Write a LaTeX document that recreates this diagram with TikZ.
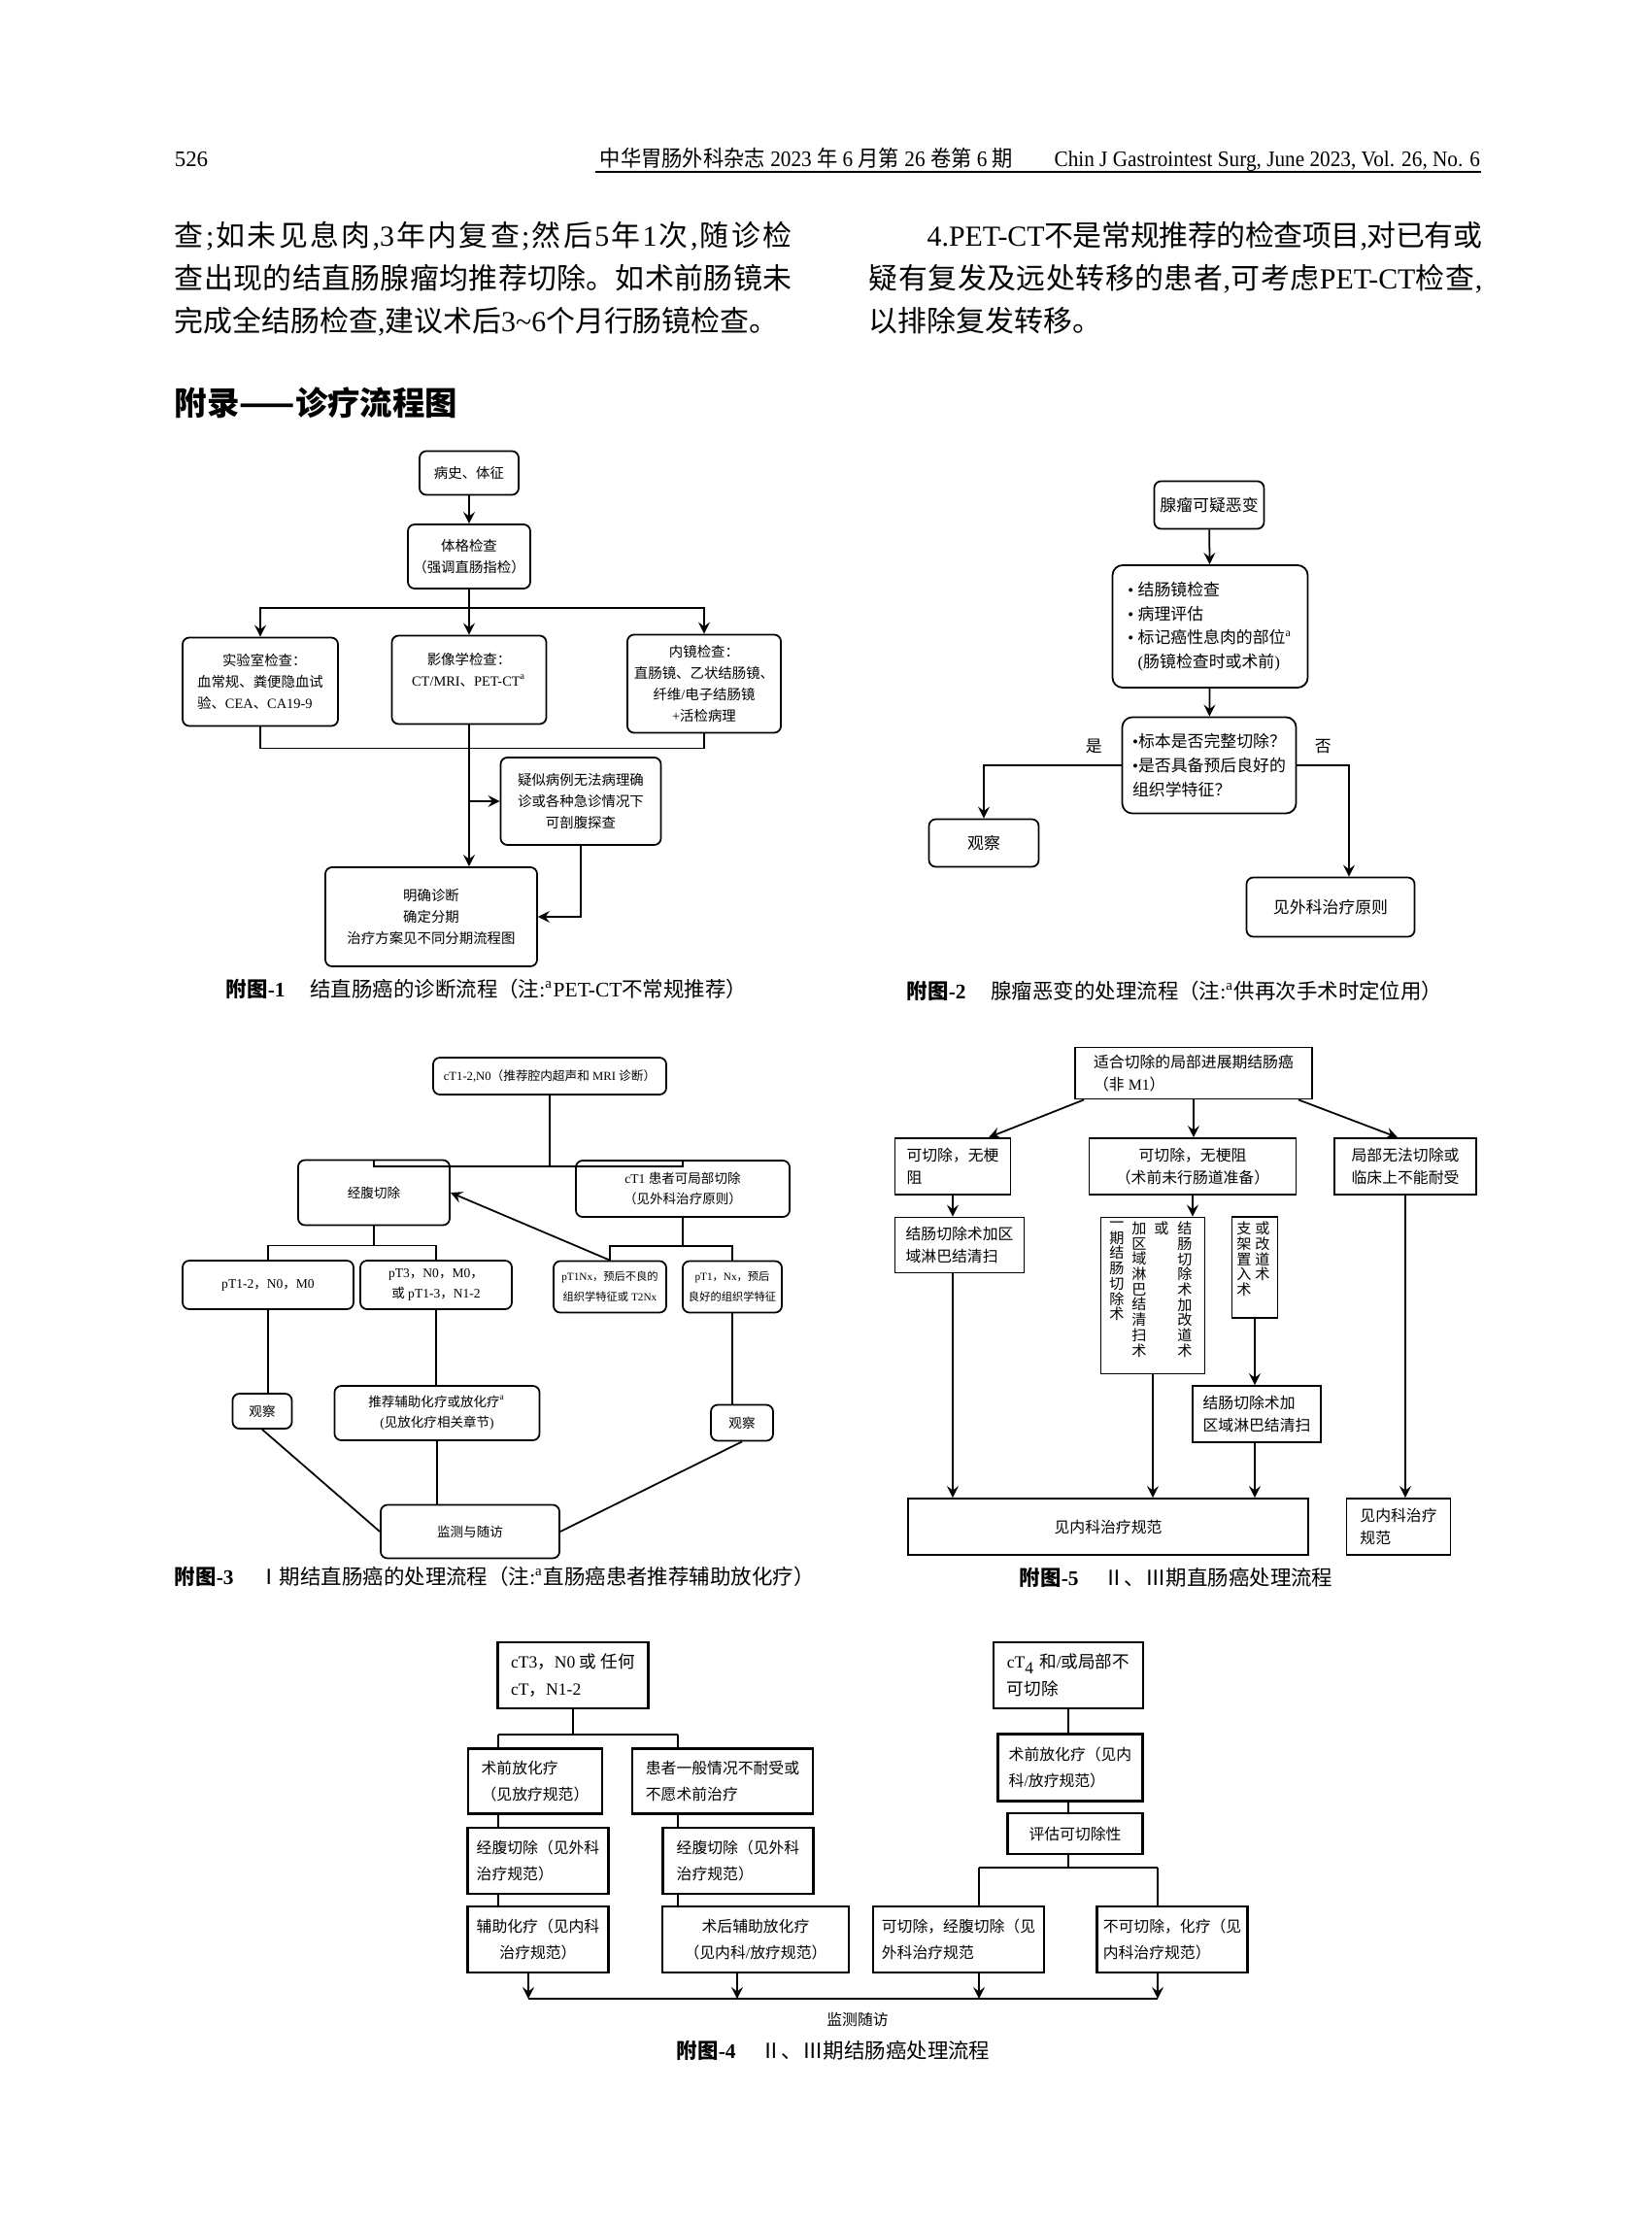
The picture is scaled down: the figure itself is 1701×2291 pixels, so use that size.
\documentclass[tikz,border=0pt]{standalone}
\usepackage{fontspec}
\usepackage{graphicx}
\setmainfont{Liberation Serif}
\newfontfamily\cjkfont{Noto Sans CJK SC}
\XeTeXlinebreaklocale "zh"
\XeTeXlinebreakskip=0pt plus 1.5pt minus 0.6pt
\XeTeXinterchartokenstate=1
\newXeTeXintercharclass\cjkclass
\newcount\cjkchar
\def\setcjkrange#1#2{\cjkchar=#1\relax
  \loop\XeTeXcharclass\cjkchar=\cjkclass
  \ifnum\cjkchar<#2\relax\advance\cjkchar by 1\repeat}
\setcjkrange{"2014}{"2014}
\setcjkrange{"2160}{"217F}
\setcjkrange{"3000}{"303F}
\setcjkrange{"4E00}{"9FFF}
\setcjkrange{"FF00}{"FFEF}
\XeTeXinterchartoks 0 \cjkclass={\hskip0pt plus 1.5pt minus 0.6pt\cjkfont}
\XeTeXinterchartoks 4095 \cjkclass={\cjkfont}
\XeTeXinterchartoks \cjkclass 0={\hskip0pt plus 1.5pt minus 0.6pt\rmfamily}
\XeTeXinterchartoks \cjkclass 4095={\rmfamily}

\begin{document}
\begin{tikzpicture}[x=0.01cm, y=-0.01cm, >=stealth, line width=0.5pt,
  wh/.style 2 args={minimum width=#1, minimum height=#2},
  rbox/.style={draw, rounded corners=2pt, align=center, inner sep=1pt},
  sbox/.style={draw, align=center, inner sep=1pt},
  fa/.style={font=\fontsize{4.1}{6.2}\selectfont},
  fb/.style={font=\fontsize{4.8}{7}\selectfont},
  fc/.style={font=\fontsize{3.85}{5.9}\selectfont},
  fcs/.style={font=\fontsize{3.2}{5.9}\selectfont},
  fd/.style={font=\fontsize{4.5}{6.4}\selectfont},
  fe/.style={font=\fontsize{4.5}{7.7}\selectfont},
  ff/.style={font=\fontsize{5}{8}\selectfont},
  vcol/.style={font=\fontsize{4.3}{4.47}\selectfont, align=center, inner sep=0pt, anchor=north},
  figcap/.style={font=\fontsize{6.1}{7}\selectfont, anchor=west, inner sep=0pt},
  body/.style={font=\fontsize{8.5}{12.5}\selectfont, align=justify, inner sep=0pt, anchor=north west}]
        \fill[white] (0,0) rectangle (1701,2291);
        \useasboundingbox (0,0) rectangle (1701,2291);

        \node[anchor=west, inner sep=0pt, font=\fontsize{6.5}{7}\selectfont] (pageno) at (179,164) {526};
        \node[anchor=east, inner sep=0pt, font=\fontsize{6.5}{7}\selectfont] (journal) at (1525,164) {\scalebox{0.93}[1]{中华胃肠外科杂志 2023 年 6 月第 26 卷第 6 期\qquad Chin J Gastrointest Surg, June 2023, Vol. 26, No. 6}};
        \draw[line width=0.4pt] (613,177) -- (1525,177);

        \node[body, text width=6.35cm] (leftpara) at (179,227) {\noindent 查;如未见息肉,3年内复查;然后5年1次,随诊检\linebreak 查出现的结直肠腺瘤均推荐切除。如术前肠镜未\linebreak 完成全结肠检查,建议术后3\textasciitilde 6个月行肠镜检查。};
        \node[body, text width=6.31cm] (rightpara) at (894,227) {\noindent\hspace*{2em}4.PET-CT不是常规推荐的检查项目,对已有或\linebreak 疑有复发及远处转移的患者,可考虑PET-CT检查,\linebreak 以排除复发转移。};
        \node[anchor=west, inner sep=0pt, font=\fontsize{9.5}{11}\selectfont\bfseries] (appendix) at (179,415) {附录——诊疗流程图};

        \node[rbox, fa, wh={1.02cm}{0.45cm}] (history) at (483,487) {病史、体征};
        \node[rbox, fa, wh={1.26cm}{0.66cm}] (physical) at (483,573) {体格检查\\（强调直肠指检）};
        \node[rbox, fa, wh={1.60cm}{0.91cm}, align=left] (lab) at (268,702) {\hspace*{1.8em}实验室检查：\\血常规、粪便隐血试\\验、CEA、CA19-9};
        \node[rbox, fa, wh={1.59cm}{0.91cm}] (imaging) at (483,700) {影像学检查：\\CT/MRI、PET-CT\textsuperscript{a}\\ \mbox{}};
        \node[rbox, fa, wh={1.58cm}{1.01cm}] (endoscopy) at (725,704) {内镜检查：\\直肠镜、乙状结肠镜、\\纤维/电子结肠镜\\+活检病理};
        \node[rbox, fa, wh={1.65cm}{0.90cm}] (suspect) at (598,825) {疑似病例无法病理确\\诊或各种急诊情况下\\可剖腹探查};
        \node[rbox, fa, wh={2.18cm}{1.02cm}] (diagnosis) at (444,944) {明确诊断\\确定分期\\治疗方案见不同分期流程图};

        \draw[->] (history) -- (physical);
        \draw (physical.south) -- ++(0,19) coordinate (split1);
        \draw[->] (split1) -| (lab.north);
        \draw[->] (split1) -| (endoscopy.north);
        \draw[->] (split1) -- (imaging.north);
        \draw (lab.south) -- ++(0,22) -| (endoscopy.south);
        \draw[->] (imaging.south) -- (imaging.south |- diagnosis.north);
        \draw[->] (imaging.south |- suspect.west) -- (suspect.west);
        \draw[->] (suspect.south) |- (diagnosis.east);
        \node[figcap] (cap1) at (232,1018) {{\bfseries 附图-1}\hspace{1.2em}结直肠癌的诊断流程（注:\textsuperscript{a}PET-CT不常规推荐）};

        \node[rbox, fb, wh={1.13cm}{0.49cm}] (adenoma) at (1245,520) {腺瘤可疑恶变};
        \node[rbox, fb, wh={2.01cm}{1.26cm}, align=left, rounded corners=3pt] (workup) at (1246,645) {• 结肠镜检查\\• 病理评估\\• 标记癌性息肉的部位\textsuperscript{a}\\\phantom{• }(肠镜检查时或术前)};
        \node[rbox, fb, wh={1.79cm}{0.99cm}, align=left, rounded corners=3pt] (check) at (1245,788) {•标本是否完整切除？\\•是否具备预后良好的\\组织学特征？};
        \node[rbox, fb, wh={1.13cm}{0.49cm}] (observe2) at (1013,868) {观察};
        \node[rbox, fb, wh={1.73cm}{0.61cm}] (surgery2) at (1370,934) {见外科治疗原则};

        \draw[->] (adenoma) -- (workup);
        \draw[->] (workup) -- (check);
        \draw[->] (check.west) -| node[pos=0.1, above, fb] (yes2) {是} (observe2.north);
        \draw[->] (check.east) -| node[pos=0.25, above, fb] (no2) {否} ([xshift=0.19cm]surgery2.north);
        \node[figcap] (cap2) at (933,1020) {{\bfseries 附图-2}\hspace{1.2em}腺瘤恶变的处理流程（注:\textsuperscript{a}供再次手术时定位用）};

        \node[rbox, wh={2.40cm}{0.38cm}, font=\fontsize{3.6}{5}\selectfont] (stage1) at (566,1108) {cT1-2,N0（推荐腔内超声和 MRI 诊断）};
        \node[rbox, fc, wh={1.56cm}{0.67cm}] (transabd) at (385,1228) {经腹切除};
        \node[rbox, fc, wh={2.20cm}{0.58cm}] (local) at (703,1224) {cT1 患者可局部切除\\（见外科治疗原则）};
        \node[rbox, fc, wh={1.76cm}{0.50cm}] (ptA) at (276,1323) {pT1-2，N0，M0};
        \node[rbox, fc, wh={1.56cm}{0.50cm}] (ptB) at (449,1323) {pT3，N0，M0，\\或 pT1-3，N1-2};
        \node[rbox, fcs, wh={1.16cm}{0.53cm}] (ptC) at (628,1325) {pT1Nx，预后不良的\\组织学特征或 T2Nx};
        \node[rbox, fcs, wh={1.02cm}{0.53cm}] (ptD) at (754,1325) {pT1，Nx，预后\\良好的组织学特征};
        \node[rbox, fc, wh={0.61cm}{0.36cm}] (observe3a) at (270,1453) {观察};
        \node[rbox, fc, wh={2.11cm}{0.56cm}] (adjuvant) at (450,1455) {推荐辅助化疗或放化疗\textsuperscript{a}\\(见放化疗相关章节)};
        \node[rbox, fc, wh={0.64cm}{0.37cm}] (observe3b) at (764,1465) {观察};
        \node[rbox, fc, wh={1.84cm}{0.55cm}] (follow3) at (484,1577) {监测与随访};

        \draw (stage1.south) -- ++(0,73) coordinate (split3);
        \draw (transabd.north) |- (split3) -| (local.north);
        \draw (transabd.south) -- ++(0,20) coordinate (split3a);
        \draw (ptA.north) |- (split3a) -| (ptB.north);
        \draw (local.south) -- ++(0,29) coordinate (split3b);
        \draw (ptC.north) |- (split3b) -| (ptD.north);
        \draw[->] (ptC.north) -- (transabd.east);
        \draw (ptA.south) -- (ptA.south |- observe3a.north);
        \draw (ptB.south) -- (ptB.south |- adjuvant.north);
        \draw (ptD.south) -- (ptD.south |- observe3b.north);
        \draw (observe3a.south) -- (follow3.west);
        \draw (adjuvant.south) -- (adjuvant.south |- follow3.north);
        \draw (observe3b.south) -- (follow3.east);
        \node[figcap] (cap3) at (179,1623) {{\bfseries 附图-3}\hspace{1.2em}Ⅰ期结直肠癌的处理流程（注:\textsuperscript{a}直肠癌患者推荐辅助放化疗）};

        \node[sbox, fd, wh={2.44cm}{0.53cm}, align=left] (advanced) at (1229,1105) {适合切除的局部进展期结肠癌\\（非 M1）};
        \node[sbox, fd, wh={1.19cm}{0.58cm}, align=left] (resectA) at (981,1201) {可切除，无梗\\阻};
        \node[sbox, fd, wh={2.13cm}{0.58cm}] (resectB) at (1228,1201) {可切除，无梗阻\\（术前未行肠道准备）};
        \node[sbox, fd, wh={1.46cm}{0.58cm}, align=left] (unresect) at (1447,1201) {局部无法切除或\\临床上不能耐受};
        \node[sbox, fd, wh={1.33cm}{0.57cm}, align=left] (colectA) at (988,1282) {结肠切除术加区\\域淋巴结清扫};
        \node[sbox, wh={1.07cm}{1.61cm}] (options) at (1187,1334) {};
        \node[vcol] (optA) at (1150,1257) {一\\期\\结\\肠\\切\\除\\术};
        \node[vcol] (optB) at (1173,1257) {加\\区\\域\\淋\\巴\\结\\清\\扫\\术};
        \node[vcol] (optC) at (1196,1257) {或};
        \node[vcol] (optD) at (1220,1257) {结\\肠\\切\\除\\术\\加\\改\\道\\术};
        \node[sbox, wh={0.47cm}{1.04cm}] (stent) at (1292,1305) {};
        \node[vcol] (stentA) at (1281,1257) {支\\架\\置\\入\\术};
        \node[vcol] (stentB) at (1300,1257) {或\\改\\道\\术};
        \node[sbox, fd, wh={1.32cm}{0.58cm}, align=left] (colectB) at (1294,1456) {结肠切除术加\\区域淋巴结清扫};
        \node[sbox, fd, wh={4.12cm}{0.58cm}] (medical5) at (1141,1572) {见内科治疗规范};
        \node[sbox, fd, wh={1.07cm}{0.58cm}, align=left] (medical5b) at (1440,1572) {见内科治疗\\规范};

        \draw[->] ([xshift=0.1cm]advanced.south west) -- ([xshift=0.37cm]resectA.north);
        \draw[->] (advanced.south) -- (advanced.south |- resectB.north);
        \draw[->] ([xshift=-0.15cm]advanced.south east) -- ([xshift=-0.08cm]unresect.north);
        \draw[->] (resectA.south) -- (resectA.south |- colectA.north);
        \draw[->] (resectA.south |- colectA.south) -- (resectA.south |- medical5.north);
        \draw[->] (resectB.south) -- (resectB.south |- options.north);
        \draw[->] (options.south) -- (options.south |- medical5.north);
        \draw[->] (stent.south) -- (stent.south |- colectB.north);
        \draw[->] (stent.south |- colectB.south) -- (stent.south |- medical5.north);
        \draw[->] (unresect.south) -- (unresect.south |- medical5b.north);
        \node[figcap] (cap5) at (1049,1624) {{\bfseries 附图-5}\hspace{1.2em}Ⅱ、Ⅲ期直肠癌处理流程};

        \node[sbox, ff, wh={1.55cm}{0.68cm}, align=left, line width=0.7pt] (cthree) at (590,1725) {cT3，N0 或 任何\\cT，N1-2};
        \node[sbox, fe, wh={1.38cm}{0.67cm}, align=left, line width=0.7pt] (preop) at (551,1834) {术前放化疗\\（见放疗规范）};
        \node[sbox, fe, wh={1.86cm}{0.67cm}, align=left, line width=0.7pt] (unfit) at (744,1834) {患者一般情况不耐受或\\不愿术前治疗};
        \node[sbox, fe, wh={1.45cm}{0.68cm}, align=left, line width=0.7pt] (surgA) at (554,1916) {经腹切除（见外科\\治疗规范）};
        \node[sbox, fe, wh={1.55cm}{0.68cm}, align=left, line width=0.7pt] (surgB) at (760,1916) {经腹切除（见外科\\治疗规范）};
        \node[sbox, fe, wh={1.45cm}{0.68cm}, line width=0.7pt] (chemoA) at (554,1997) {辅助化疗（见内科\\治疗规范）};
        \node[sbox, fe, wh={1.92cm}{0.68cm}, line width=0.7pt] (chemoB) at (778,1997) {术后辅助放化疗\\（见内科/放疗规范）};
        \node[sbox, ff, wh={1.54cm}{0.68cm}, align=left, line width=0.7pt] (cfour) at (1100,1725) {cT\textsubscript{4} 和/或局部不\\可切除};
        \node[sbox, fe, wh={1.49cm}{0.69cm}, align=left, line width=0.7pt] (preopB) at (1102,1820) {术前放化疗（见内\\科/放疗规范）};
        \node[sbox, fe, wh={1.39cm}{0.42cm}, align=left, line width=0.7pt] (assess) at (1107,1888) {评估可切除性};
        \node[sbox, fe, wh={1.76cm}{0.68cm}, align=left, line width=0.7pt] (resectable) at (987,1997) {可切除，经腹切除（见\\外科治疗规范};
        \node[sbox, fe, wh={1.55cm}{0.68cm}, align=left, line width=0.7pt] (unresectable) at (1207,1997) {不可切除，化疗（见\\内科治疗规范）};
        \node[fe] (follow4) at (883,2079) {监测随访};

        \coordinate (left4) at (513,1786);
        \coordinate (mid4) at (698,1786);
        \coordinate (resx) at (1008,1923);
        \coordinate (unrx) at (1192,1923);
        \coordinate (endA) at (544,2058);
        \coordinate (endB) at (759,2058);
        \draw (cthree.south) -- (cthree.south |- left4);
        \draw (left4) -- (mid4);
        \draw (left4) -- (left4 |- preop.north);
        \draw (mid4) -- (mid4 |- unfit.north);
        \draw (left4 |- preop.south) -- (left4 |- surgA.north);
        \draw (left4 |- surgA.south) -- (left4 |- chemoA.north);
        \draw (mid4 |- unfit.south) -- (mid4 |- surgB.north);
        \draw (mid4 |- surgB.south) -- (mid4 |- chemoB.north);
        \draw (cfour.south) -- (cfour.south |- preopB.north);
        \draw (cfour.south |- preopB.south) -- (cfour.south |- assess.north);
        \draw (cfour.south |- assess.south) -- (cfour.south |- resx);
        \draw (resx) -- (unrx);
        \draw (resx) -- (resx |- resectable.north);
        \draw (unrx) -- (unrx |- unresectable.north);
        \draw (endA) -- (unrx |- endA);
        \draw[->] (endA |- chemoA.south) -- (endA);
        \draw[->] (endB |- chemoB.south) -- (endB);
        \draw[->] (resx |- resectable.south) -- (resx |- endA);
        \draw[->] (unrx |- unresectable.south) -- (unrx |- endA);
        \node[figcap] (cap4) at (696,2111) {{\bfseries 附图-4}\hspace{1.2em}Ⅱ、Ⅲ期结肠癌处理流程};
      \end{tikzpicture}
\end{document}
